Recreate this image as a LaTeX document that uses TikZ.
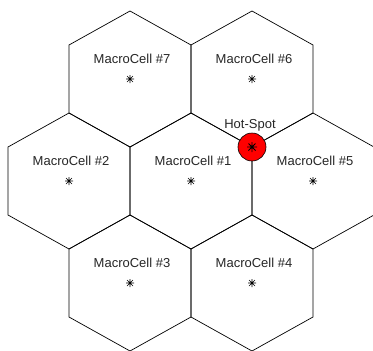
\documentclass[tikz,border=0pt]{standalone}
\usepackage{fontspec}
\setmainfont{Liberation Sans}
\begin{document}
\begin{tikzpicture}[x=1pt,y=-1pt,
  hexline/.style={draw=black, line width=0.7pt, line join=miter},
  lbl/.style={font=\fontsize{13}{15}\selectfont, inner sep=0pt, anchor=base, text=black!85},
  starmk/.style={line width=0.6pt, draw=black},
  hotspot/.style={circle, fill=red, draw=black, line width=0.6pt, minimum size=28pt, inner sep=0pt}]
\useasboundingbox (0,0) rectangle (373,351);
\clip (0,0) rectangle (373,351);
\foreach \n/\cx/\cy in {1/191/181, 2/69/181, 5/313/181, 7/130/79, 6/252/79, 3/130/283, 4/252/283} {
  \coordinate (c\n) at (\cx,\cy);
  \draw[hexline] (\cx,\cy-68) -- (\cx+61,\cy-34) -- (\cx+61,\cy+34) -- (\cx,\cy+68) -- (\cx-61,\cy+34) -- (\cx-61,\cy-34) -- cycle;
  \node[lbl] (t\n) at (\cx+2,\cy-16) {MacroCell \#\n};
  \draw[starmk] (\cx-4,\cy) -- (\cx+4,\cy) (\cx,\cy-4) -- (\cx,\cy+4)
    (\cx-3,\cy-3) -- (\cx+3,\cy+3) (\cx-3,\cy+3) -- (\cx+3,\cy-3);
}
\node[hotspot] (hs) at (252,147) {};
\draw[starmk, line width=0.8pt] (247,147) -- (257,147) (252,142) -- (252,152)
  (248.5,143.5) -- (255.5,150.5) (248.5,150.5) -- (255.5,143.5);
\node[lbl, anchor=center] (hsl) at (250,125.5) {Hot-Spot};
\end{tikzpicture}
\end{document}
